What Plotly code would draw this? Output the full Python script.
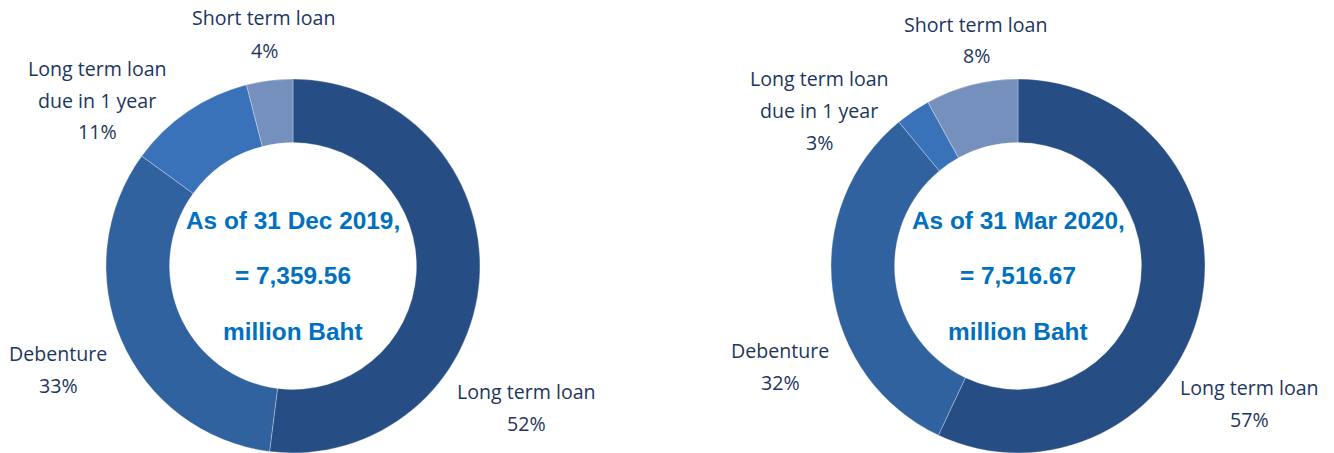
import plotly.graph_objects as go

# ---- data ----
categories = ["Long term loan", "Debenture", "Long term loan<br>due in 1 year", "Short term loan"]
dec2019_pct = [52, 33, 11, 4]
mar2020_pct = [57, 32, 3, 8]
as_of_dates = ["31 Dec 2019", "31 Mar 2020"]
totals = ["7,359.56", "7,516.67"]

# ---- styles / layout ----
W, H = 1334, 453
slice_colors = ["#264E85", "#3162A0", "#3A72BA", "#7690BD"]
label_color = "#1D3660"
center_color = "#0070C0"

pie_centers_px = [293, 1018]   # x centre of each donut (px)
radius_px = 187
hole = 0.66

# label anchor (centre x, first-line y) per category, px
label_pos = [
    [(526, 391), (58, 353), (97, 68), (264, 18)],
    [(1249, 387), (780, 350), (819, 78), (976, 24)],
]
line_gap = 32
center_lines_y = [220, 275, 331]

fig = go.Figure()
annotations = []

for i, vals in enumerate([dec2019_pct, mar2020_pct]):
    cx = pie_centers_px[i]
    fig.add_trace(go.Pie(
        labels=[c.replace("<br>", " ") for c in categories],
        values=vals,
        sort=False,
        direction="clockwise",
        rotation=0,
        hole=hole,
        textinfo="none",
        marker=dict(colors=slice_colors, line=dict(color="rgba(255,255,255,0.3)", width=1)),
        domain=dict(x=[(cx - radius_px) / W, (cx + radius_px) / W], y=[0, 2 * radius_px / H]),
        showlegend=False,
    ))
    # outside labels
    for j, cat in enumerate(categories):
        lines = cat.split("<br>") + [f"{vals[j]}%"]
        x0, y0 = label_pos[i][j]
        for k, ln in enumerate(lines):
            annotations.append(dict(
                x=x0 / W, y=1 - (y0 + k * line_gap) / H, xref="paper", yref="paper",
                text=ln, showarrow=False, xanchor="center", yanchor="middle",
                font=dict(family="Open Sans", size=19.6, color=label_color),
            ))
    # centre text
    centre = [f"<b>As of {as_of_dates[i]},</b>", f"<b>= {totals[i]}</b>", "<b>million Baht</b>"]
    for k, ln in enumerate(centre):
        annotations.append(dict(
            x=cx / W, y=1 - center_lines_y[k] / H, xref="paper", yref="paper",
            text=ln, showarrow=False, xanchor="center", yanchor="middle",
            font=dict(family="Liberation Sans, Arial", size=24.4, color=center_color),
        ))

fig.update_layout(
    width=W, height=H,
    margin=dict(l=0, r=0, t=0, b=0),
    paper_bgcolor="white", plot_bgcolor="white",
    annotations=annotations,
)

fig.write_html("out.html")
